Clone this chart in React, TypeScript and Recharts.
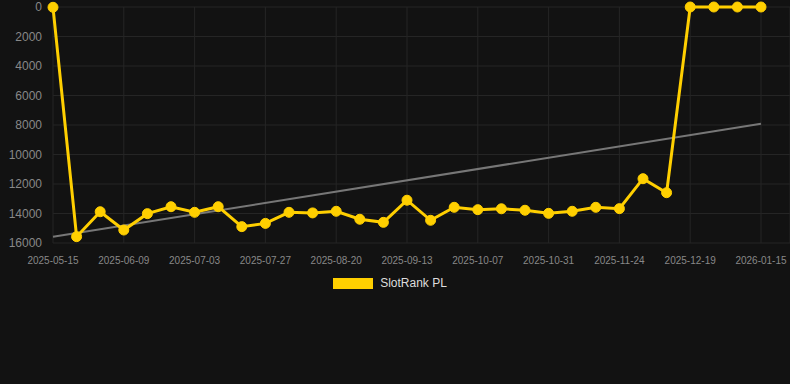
import { LineChart, Line, XAxis, YAxis, CartesianGrid, Legend } from 'recharts';

const dates = [
  '2025-05-15', '2025-05-23', '2025-06-01', '2025-06-09', '2025-06-17', '2025-06-25',
  '2025-07-03', '2025-07-11', '2025-07-19', '2025-07-27', '2025-08-04', '2025-08-12',
  '2025-08-20', '2025-08-28', '2025-09-05', '2025-09-13', '2025-09-21', '2025-09-29',
  '2025-10-07', '2025-10-15', '2025-10-23', '2025-10-31', '2025-11-08', '2025-11-16',
  '2025-11-24', '2025-12-02', '2025-12-10', '2025-12-19', '2025-12-28', '2026-01-06',
  '2026-01-15',
];

const ranks = [
  20, 15570, 13880, 15120, 14010, 13540, 13920, 13540, 14890, 14670, 13920, 13960,
  13850, 14390, 14600, 13100, 14460, 13580, 13740, 13680, 13780, 13990, 13850, 13580,
  13670, 11640, 12590, 0, 0, 0, 0,
];

// trend only has its two end values, the line joins them
const trendStart = 15580;
const trendEnd = 7920;

const yTicks = [0, 2000, 4000, 6000, 8000, 10000, 12000, 14000, 16000];

const YELLOW = '#FFCF00';
const GRID = '#252525';

export default function App() {
  const data = dates.map((date, i) => ({
    date,
    rank: ranks[i],
    trend: i === 0 ? trendStart : i === dates.length - 1 ? trendEnd : null,
  }));

  return (
    <div
      style={{
        position: 'absolute',
        left: 0,
        top: 0,
        width: 790,
        height: 384,
        background: '#121212',
        fontFamily: '"Liberation Sans", Arial, sans-serif',
      }}
    >
      <LineChart
        width={790}
        height={384}
        data={data}
        margin={{ top: 7, right: 0, left: 0, bottom: 111 }}
      >
        <CartesianGrid stroke={GRID} strokeWidth={1} />
        <XAxis
          dataKey="date"
          interval={2}
          height={30}
          padding={{ left: 0, right: 29 }}
          tickLine={false}
          axisLine={false}
          tickMargin={8}
          tick={{ fill: '#888', fontSize: 10 }}
        />
        <YAxis
          reversed
          domain={[0, 16000]}
          ticks={yTicks}
          interval={0}
          width={53}
          tickLine={false}
          axisLine={false}
          tickSize={1}
          tickMargin={10}
          tick={{ fill: '#888', fontSize: 12 }}
        />
        <Legend
          verticalAlign="middle"
          wrapperStyle={{ top: 276, left: 0, width: 780 }}
          content={() => (
            <div style={{ display: 'flex', justifyContent: 'center', alignItems: 'center' }}>
              <span style={{ display: 'inline-block', width: 40, height: 11, background: YELLOW, marginRight: 7 }} />
              <span style={{ color: '#ddd', fontSize: 12 }}>SlotRank PL</span>
            </div>
          )}
        />
        <Line
          dataKey="trend"
          stroke="#777"
          strokeWidth={2}
          dot={false}
          connectNulls
          legendType="none"
          isAnimationActive={false}
        />
        <Line
          dataKey="rank"
          name="SlotRank PL"
          stroke={YELLOW}
          strokeWidth={3}
          dot={{ r: 5, fill: YELLOW, stroke: YELLOW, strokeWidth: 1 }}
          activeDot={false}
          isAnimationActive={false}
        />
      </LineChart>
    </div>
  );
}
